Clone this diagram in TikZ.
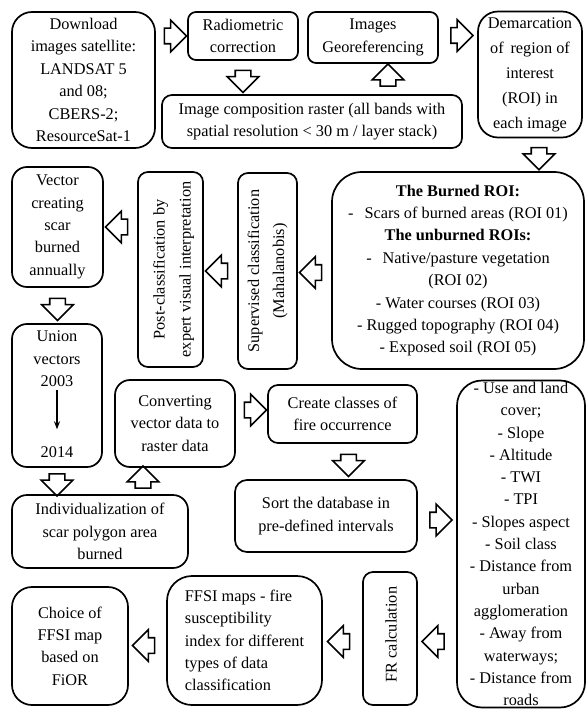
\documentclass[tikz,border=0pt]{standalone}
\usepackage{fontspec}
\setmainfont{Liberation Serif}
\usetikzlibrary{shapes.arrows,calc,arrows.meta}

\begin{document}
\begin{tikzpicture}[x=1pt, y=-1pt,
	box/.style={draw, line width=1.7pt, rounded corners=#1, align=center, inner sep=0pt, font=\fontsize{16.3}{22.4}\selectfont},
	box/.default=10pt,
	txt/.style={align=center, inner sep=0pt, font=\fontsize{16.3}{22.4}\selectfont},
	barrow/.style={draw, line width=1.6pt, single arrow, single arrow head extend=8pt, inner xsep=0pt, inner ysep=7pt, minimum height=22pt, sloped, allow upside down}]
	\useasboundingbox (0,0) rectangle (587,711);
	% top row
	\node[box=20pt, minimum width=143pt, minimum height=136pt] (dwnld) at (83.5,80) {Download\\images satellite:\\LANDSAT 5\\and 08;\\CBERS-2;\\ResourceSat-1};
	\node[box=8pt, minimum width=110pt, minimum height=48pt] (radio) at (243,36) {Radiometric\\correction};
	\node[box=8pt, minimum width=130pt, minimum height=51pt] (georef) at (373,37.5) {Images\\Georeferencing};
	\node[box=20pt, minimum width=104pt, minimum height=126pt, font=\fontsize{16.3}{25}\selectfont] (demarc) at (530,74.5) {Demarcation\\of \,region of\\interest\\(ROI) in\\each image};
	\node[box=10pt, minimum width=300pt, minimum height=53pt] (compos) at (312,121.5) {Image composition raster (all bands with\\spatial resolution < 30 m / layer stack)};
	% classification row
	\node[box=30pt, minimum width=252pt, minimum height=197pt] (roi) at (458,270.5) {\textbf{The Burned ROI:}\\-\hspace{11pt}Scars of burned areas (ROI 01)\\\textbf{The unburned ROIs:}\\-\hspace{11pt}Native/pasture vegetation\\(ROI 02)\\- Water courses (ROI 03)\\- Rugged topography (ROI 04)\\- Exposed soil (ROI 05)};
	\node[box, minimum width=59pt, minimum height=196pt] (superv) at (267.5,271) {};
	\node[txt, rotate=90, font=\fontsize{16.3}{25}\selectfont] (supervtxt) at (superv) {Supervised classification\\(Mahalanobis)};
	\node[box, minimum width=65pt, minimum height=195pt] (postc) at (170.5,269.5) {};
	\node[txt, rotate=90, font=\fontsize{16.3}{26}\selectfont] (postctxt) at ([xshift=3pt]postc.center) {Post-classification by\\expert visual interpretation};
	\node[box=15pt, minimum width=91pt, minimum height=120pt] (vector) at (57.5,227) {Vector\\creating\\scar\\burned\\annually};
	% union and rasters
	\node[box=15pt, minimum width=90pt, minimum height=143pt] (union) at (57,395.5) {};
	\node[txt, anchor=north] (u2003) at (57,331) {Union\\vectors\\2003};
	\node[txt] (u2014) at (57,452) {2014};
	\draw[line width=1.6pt, -{Stealth[length=8pt]}, shorten <=3pt, shorten >=17pt] (u2003) -- (u2014);
	\node[box=15pt, minimum width=120pt, minimum height=87pt] (convert) at (175,423.5) {Converting\\vector data to\\raster data};
	\node[box=10pt, minimum width=149pt, minimum height=58pt] (create) at (342.5,414) {Create classes of\\fire occurrence};
	\node[box=12pt, minimum width=182pt, minimum height=72pt] (sort) at (326,516) {Sort the database in\\pre-defined intervals};
	\node[box=25pt, minimum width=128pt, minimum height=327pt, font=\fontsize{16.3}{22.3}\selectfont] (factors) at (521,544) {- Use and land\\cover;\\- Slope\\- Altitude\\- TWI\\- TPI\\- Slopes aspect\\- Soil class\\- Distance from\\urban\\agglomeration\\- Away from\\waterways;\\- Distance from\\roads};
	\node[box=15pt, minimum width=176pt, minimum height=73pt] (indiv) at (100,531.5) {Individualization of\\scar polygon area\\burned};
	% bottom row
	\node[box=20pt, minimum width=116pt, minimum height=118pt] (choice) at (70,646) {Choice of\\FFSI map\\based on\\FiOR};
	\node[box=25pt, minimum width=155pt, minimum height=129pt, align=left, inner xsep=17pt] (ffsi) at (244.5,640.5) {FFSI maps - fire\\susceptibility\\index for different\\types of data\\classification};
	\node[box, minimum width=54pt, minimum height=133pt] (frcalc) at (390,638.5) {};
	\node[txt, rotate=90] (frcalctxt) at ([xshift=1pt,yshift=4pt]frcalc.center) {FR calculation};
	% block arrows
	\path (dwnld.east |- radio) -- node[barrow] (a1) {} (radio.west);
	\path (radio.south) -- node[barrow] (a2) {} (radio.south |- compos.north);
	\path ([xshift=15pt]compos.north -| georef) -- node[barrow] (a3) {} ([xshift=15pt]georef.south);
	\path ([yshift=2pt]georef.east) -- node[barrow] (a4) {} ([yshift=2pt]demarc.west |- georef);
	\path ([xshift=9pt]demarc.south) -- node[barrow] (a5) {} ([xshift=9pt]demarc.south |- roi.north);
	\path ([yshift=-2pt]roi.west) -- node[barrow] (a6) {} ([yshift=-2pt]superv.east |- roi.west);
	\path (superv.west |- supervtxt) -- node[barrow] (a7) {} (postc.east |- supervtxt);
	\path (postc.west |- vector) -- node[barrow] (a8) {} (vector.east);
	\path (vector.south) -- node[barrow] (a9) {} (vector.south |- union.north);
	\path (union.south) -- node[barrow] (a10) {} (union.south |- indiv.north);
	\path ([xshift=-32pt]convert.south |- indiv.north) -- node[barrow] (a11) {} ([xshift=-32pt]convert.south);
	\path ([yshift=4pt]convert.east |- create) -- node[barrow] (a12) {} ([yshift=4pt]create.west);
	\path ([xshift=6pt]create.south) -- node[barrow] (a13) {} ([xshift=6pt]create.south |- sort.north);
	\path ([yshift=-4pt]sort.east) -- node[barrow] (a14) {} ([yshift=-4pt]factors.west |- sort.east);
	\path ([yshift=-3pt]factors.west |- frcalc) -- node[barrow] (a15) {} ([yshift=-3pt]frcalc.east);
	\path ([yshift=-3pt]frcalc.west) -- node[barrow] (a16) {} ([yshift=-3pt]ffsi.east |- frcalc);
	\path ([yshift=-5pt]ffsi.west) -- node[barrow] (a17) {} ([yshift=-5pt]choice.east |- ffsi);
\end{tikzpicture}
\end{document}
